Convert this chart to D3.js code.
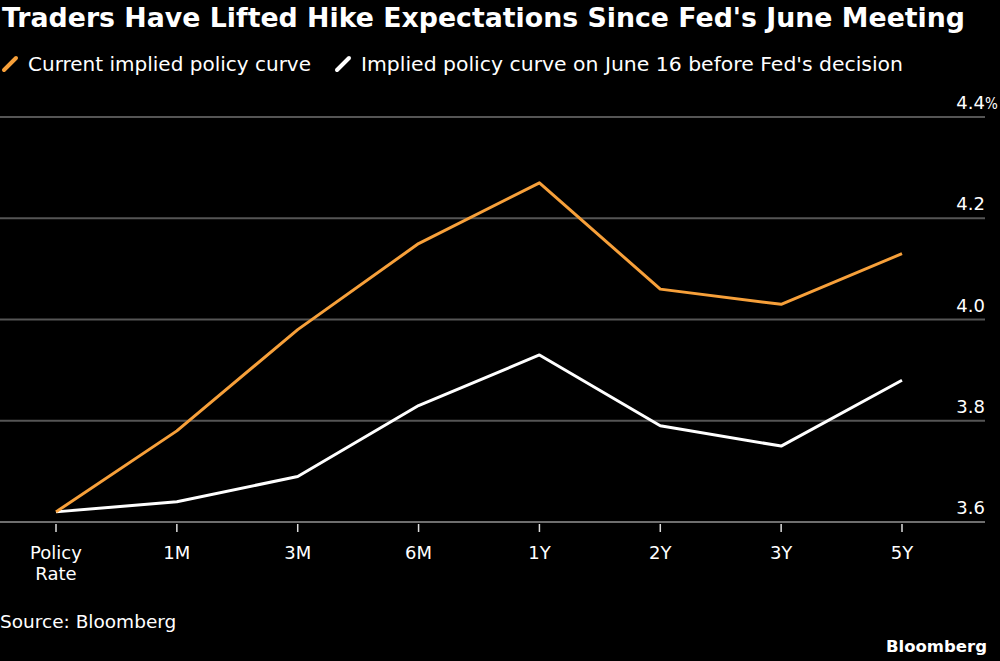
<!DOCTYPE html>
<html>
<head>
<meta charset="utf-8">
<script src="https://cdn.jsdelivr.net/npm/d3@7"></script>
<style>
  body { margin: 0; background: #000; }
  svg { display: block; font-family: "DejaVu Sans", sans-serif; }
</style>
</head>
<body>
<svg id="chart"></svg>
<script>
// Dimensioni
const width = 1000;
const height = 661;
const margin = { top: 117, right: 15, bottom: 139, left: 0 };

// Dati
const tenors = ["Policy Rate", "1M", "3M", "6M", "1Y", "2Y", "3Y", "5Y"];
const currentCurve = [3.62, 3.78, 3.98, 4.15, 4.27, 4.06, 4.03, 4.13];
const juneCurve    = [3.62, 3.64, 3.69, 3.83, 3.93, 3.79, 3.75, 3.88];
const yTicks = [3.6, 3.8, 4.0, 4.2, 4.4];
const yTickLabels = ["3.6", "3.8", "4.0", "4.2", "4.4"];

const orange = "#f7a03a";

const svg = d3.select("#chart")
  .attr("width", width)
  .attr("height", height);

svg.append("rect").attr("width", width).attr("height", height).attr("fill", "#000");

const x = d3.scalePoint()
  .domain(tenors)
  .range([56, 902]);

const y = d3.scaleLinear()
  .domain([3.6, 4.4])
  .range([height - margin.bottom, margin.top]);

// Griglia
svg.append("g")
  .selectAll("line")
  .data(yTicks)
  .join("line")
  .attr("x1", 0)
  .attr("x2", width - margin.right)
  .attr("y1", d => y(d))
  .attr("y2", d => y(d))
  .attr("stroke", d => d === 3.6 ? "#6e6e6e" : "#555")
  .attr("stroke-width", 2);

// Etichette asse Y (il "%" sporge oltre la griglia)
const yLab = svg.append("g")
  .selectAll("g")
  .data(yTicks)
  .join("g")
  .attr("transform", d => `translate(${width - margin.right},${y(d) - 8})`);
yLab.append("text")
  .attr("text-anchor", "end")
  .attr("fill", "#fff")
  .attr("font-size", 18)
  .text((d, i) => yTickLabels[i]);
yLab.filter(d => d === 4.4).append("text")
  .attr("x", 0)
  .attr("fill", "#fff")
  .attr("font-size", 15)
  .attr("font-family", "'DejaVu Sans Condensed', sans-serif")
  .text("%");

// Asse X
const xAxis = svg.append("g")
  .attr("transform", `translate(0,${y(3.6)})`);

xAxis.selectAll("line")
  .data(tenors)
  .join("line")
  .attr("x1", d => x(d))
  .attr("x2", d => x(d))
  .attr("y1", 2)
  .attr("y2", 10)
  .attr("stroke", "#ddd")
  .attr("stroke-width", 1.5);

xAxis.selectAll("text")
  .data(tenors)
  .join("text")
  .attr("x", d => x(d))
  .attr("y", 37)
  .attr("text-anchor", "middle")
  .attr("fill", "#fff")
  .attr("font-size", 18)
  .each(function(d) {
    const parts = d === "Policy Rate" ? ["Policy", "Rate"] : [d];
    d3.select(this).selectAll("tspan")
      .data(parts)
      .join("tspan")
      .attr("x", x(d))
      .attr("dy", (p, i) => i === 0 ? 0 : 21)
      .text(p => p);
  });

// Linee
const line = d3.line()
  .x((d, i) => x(tenors[i]))
  .y(d => y(d));

svg.append("path")
  .datum(juneCurve)
  .attr("fill", "none")
  .attr("stroke", "#fff")
  .attr("stroke-width", 3)
  .attr("stroke-linejoin", "round")
  .attr("d", line);

svg.append("path")
  .datum(currentCurve)
  .attr("fill", "none")
  .attr("stroke", orange)
  .attr("stroke-width", 3)
  .attr("stroke-linejoin", "round")
  .attr("d", line);

// Titolo
svg.append("text")
  .attr("x", 2)
  .attr("y", 27)
  .attr("fill", "#fff")
  .attr("font-size", 27)
  .attr("font-weight", "bold")
  .attr("textLength", 963)
  .attr("lengthAdjust", "spacingAndGlyphs")
  .text("Traders Have Lifted Hike Expectations Since Fed's June Meeting");

// Legenda
const legend = [
  { label: "Current implied policy curve", color: orange, x: 3, w: 283 },
  { label: "Implied policy curve on June 16 before Fed's decision", color: "#fff", x: 336, w: 542 }
];
const lg = svg.append("g").selectAll("g")
  .data(legend)
  .join("g")
  .attr("transform", d => `translate(${d.x},63)`);
lg.append("line")
  .attr("x1", 1).attr("y1", 7)
  .attr("x2", 13).attr("y2", -5)
  .attr("stroke", d => d.color)
  .attr("stroke-width", 4)
  .attr("stroke-linecap", "round");
lg.append("text")
  .attr("x", 25)
  .attr("y", 8)
  .attr("fill", "#fff")
  .attr("font-size", 20)
  .attr("textLength", d => d.w)
  .attr("lengthAdjust", "spacingAndGlyphs")
  .text(d => d.label);

// Fonte
svg.append("text")
  .attr("x", 0)
  .attr("y", 628)
  .attr("fill", "#fff")
  .attr("font-size", 18.5)
  .text("Source: Bloomberg");

svg.append("text")
  .attr("x", 987)
  .attr("y", 652)
  .attr("text-anchor", "end")
  .attr("fill", "#fff")
  .attr("font-size", 16.5)
  .attr("font-weight", "bold")
  .text("Bloomberg");
</script>
</body>
</html>
